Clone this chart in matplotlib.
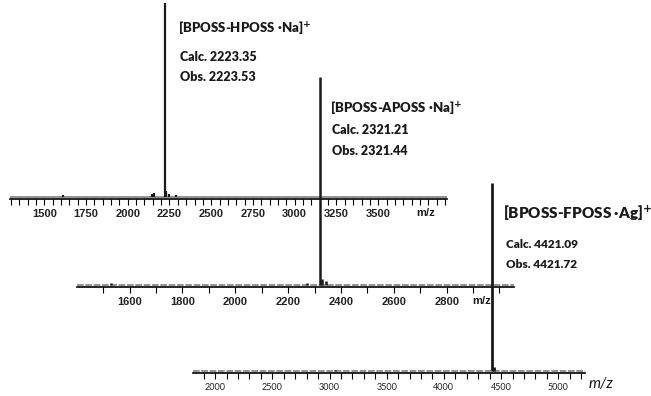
import matplotlib
matplotlib.use("Agg")
from matplotlib import pyplot as plt
from matplotlib.ticker import MultipleLocator, FuncFormatter

# MALDI-TOF spectra (stick peaks, relative intensity)
top_mz = [1610, 2145, 2160, 2223.53, 2232, 2245, 2290]
top_int = [0.01, 0.015, 0.02, 1.0, 0.03, 0.015, 0.012]
mid_mz = [1530, 2270, 2321.44, 2330, 2342]
mid_int = [0.01, 0.01, 1.0, 0.03, 0.02]
bot_mz = [3050, 4421.72, 4440]
bot_int = [0.008, 1.0, 0.02]

top_xlim = (1295, 3912)
mid_xlim = (1401, 3055)
bot_xlim = (1806, 5234)
top_last_label = 3500
mid_last_label = 2800
bot_last_label = 5000

top_label = ["[BPOSS-HPOSS ·Na]$^{\\mathbf{+}}$", "Calc. 2223.35", "Obs. 2223.53"]
mid_label = ["[BPOSS-APOSS ·Na]$^{\\mathbf{+}}$", "Calc. 2321.21", "Obs. 2321.44"]
bot_label = ["[BPOSS-FPOSS ·Ag]$^{\\mathbf{+}}$", "Calc. 4421.09", "Obs. 4421.72"]

W, H = 651, 396
fig = plt.figure(figsize=(W / 100, H / 100), dpi=100)


def px_axes(x0, y_axis, width, y_top):
    ax = fig.add_axes([x0 / W, (H - y_axis) / H, width / W, (y_axis - y_top) / H])
    ax.patch.set_visible(False)
    for s in ["top", "left", "right"]:
        ax.spines[s].set_visible(False)
    ax.spines["bottom"].set_linewidth(1.2)
    ax.set_yticks([])
    ax.set_ylim(-0.01, 1)
    return ax


def spectrum(ax, mz, inten, xlim, major, minor, last, lw, base_ls):
    ax.axhline(0, color="0.5", lw=1.2, ls=base_ls)
    ax.vlines(mz, 0, inten, color="#1a1a1a", lw=lw)
    ax.set_xlim(*xlim)
    ax.xaxis.set_major_locator(MultipleLocator(major))
    ax.xaxis.set_minor_locator(MultipleLocator(minor))
    ax.xaxis.set_major_formatter(FuncFormatter(lambda v, p: "%d" % v if v <= last else ""))
    ax.tick_params(axis="x", which="both", direction="out", length=4, width=0.8, pad=3)


def style_labels(ax, family, size, weight):
    for t in ax.get_xticklabels():
        t.set_fontfamily(family)
        t.set_fontweight(weight)
        t.set_fontsize(size)
        t.set_color("#222222")


# top spectrum
ax1 = px_axes(10, 199, 437, 3)
spectrum(ax1, top_mz, top_int, top_xlim, 250, 50, top_last_label, 1.6, "-")
style_labels(ax1, "Liberation Sans", 8, "bold")

# middle spectrum
ax2 = px_axes(77, 287, 437, 77)
spectrum(ax2, mid_mz, mid_int, mid_xlim, 200, 100, mid_last_label, 1.8, (0, (4, 1)))
style_labels(ax2, "Liberation Sans", 8, "bold")

# bottom spectrum
ax3 = px_axes(193, 373, 392, 183)
spectrum(ax3, bot_mz, bot_int, bot_xlim, 500, 100, bot_last_label, 2.0, (0, (4, 1)))
style_labels(ax3, "Lato", 6.5, "normal")


def ftext(x, y, s, **kw):
    fig.text(x / W, 1 - y / H, s, va="center", ha="left", color="#1a1a1a", **kw)


ftext(416, 213, "m/z", fontsize=8, fontweight="bold", family="Liberation Sans")
ftext(472, 301, "m/z", fontsize=8, fontweight="bold", family="Liberation Sans")
ftext(589, 384, "m/z", fontsize=11, style="italic", family="Lato")

ftext(178, 27, top_label[0], fontsize=9.5, fontweight="heavy", family="Lato")
ftext(180, 57, top_label[1], fontsize=9, fontweight="heavy", family="Lato")
ftext(180, 77, top_label[2], fontsize=9, fontweight="heavy", family="Lato")

ftext(330, 107, mid_label[0], fontsize=9.5, fontweight="heavy", family="Lato")
ftext(332, 130, mid_label[1], fontsize=9, fontweight="heavy", family="Lato")
ftext(332, 151, mid_label[2], fontsize=9, fontweight="heavy", family="Lato")

ftext(503, 213, bot_label[0], fontsize=11, fontweight="heavy", family="Lato")
ftext(506, 244, bot_label[1], fontsize=8.5, fontweight="heavy", family="Lato")
ftext(506, 265, bot_label[2], fontsize=8.5, fontweight="heavy", family="Lato")

fig.savefig("out.png", dpi=100)
